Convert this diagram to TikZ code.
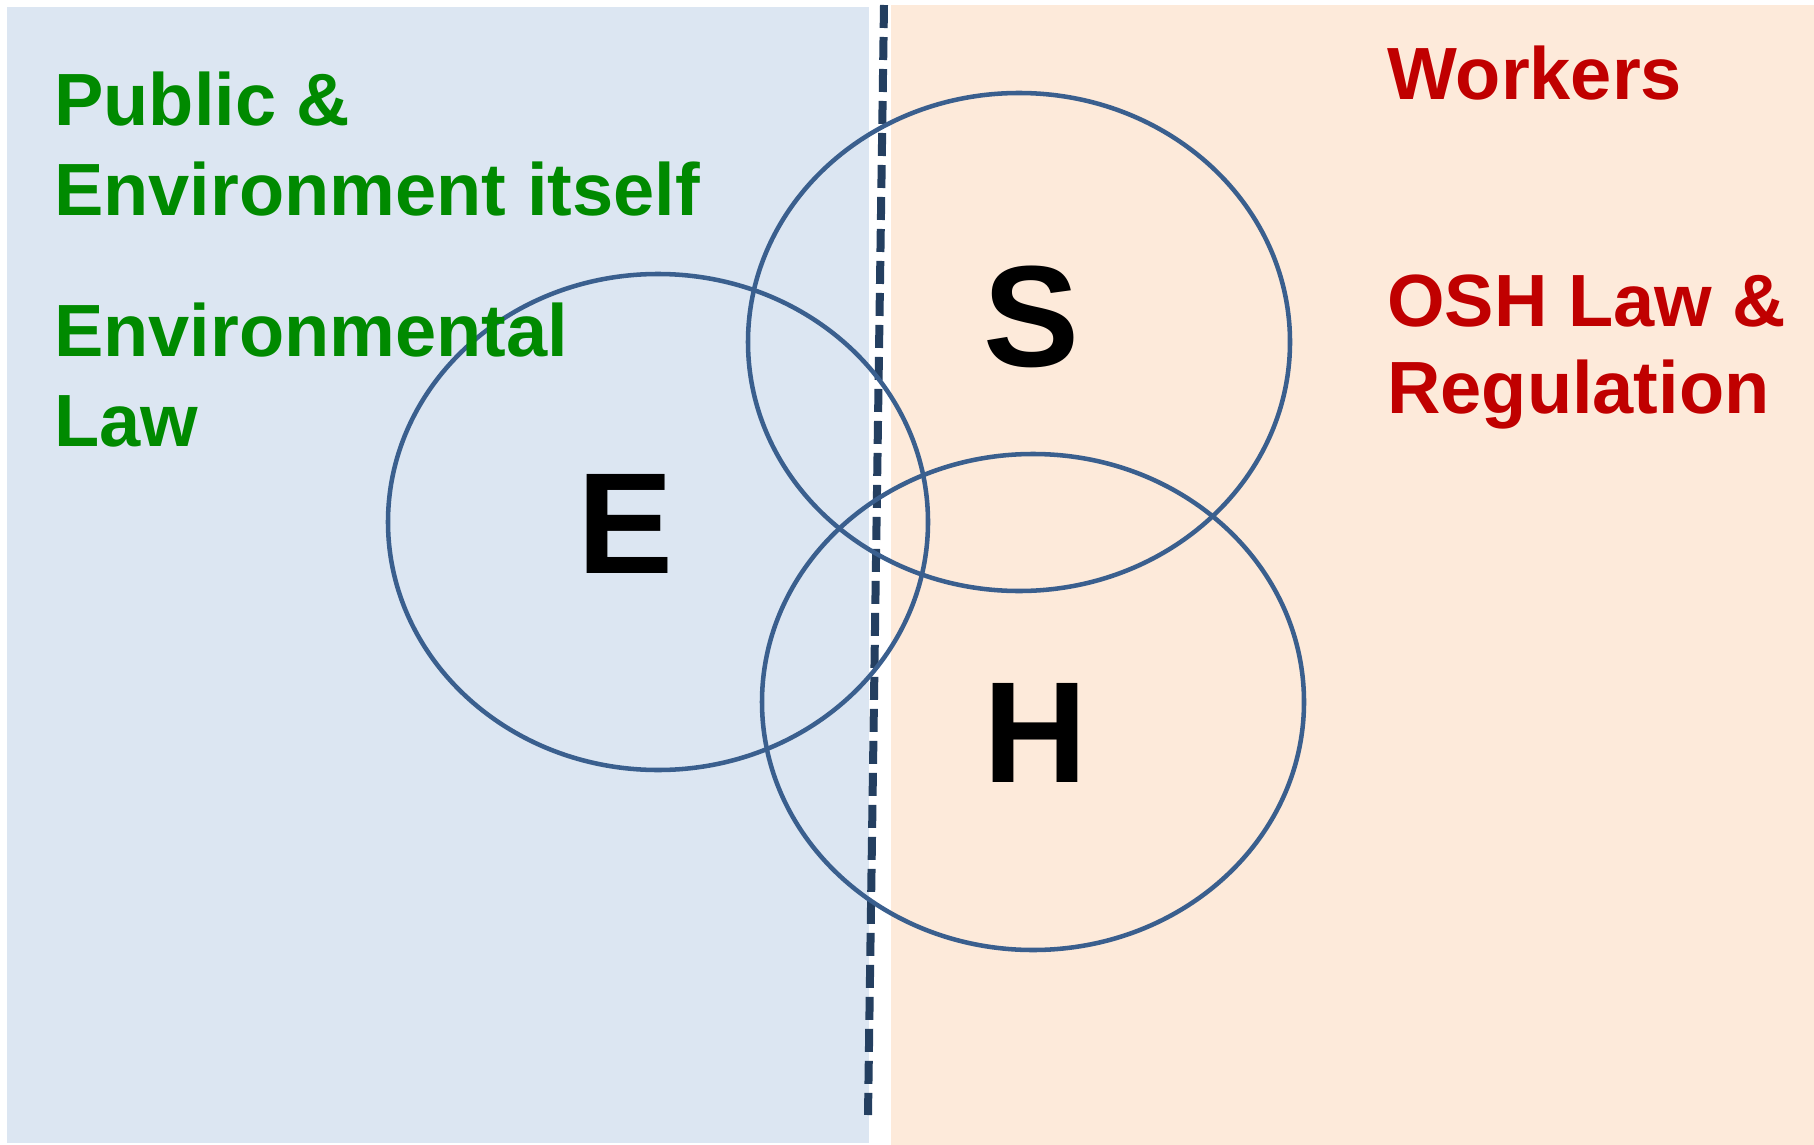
\documentclass[tikz,border=0pt]{standalone}
\usepackage{fontspec}
\setmainfont{Liberation Sans}
\usetikzlibrary{positioning}
\definecolor{leftblue}{HTML}{DCE6F2}
\definecolor{rightpeach}{HTML}{FDEADA}
\definecolor{ringblue}{HTML}{3A5F8E}
\definecolor{navy}{HTML}{243F60}
\definecolor{envgreen}{HTML}{008A00}
\definecolor{oshred}{HTML}{C00000}
\tikzstyle{ring}=[draw=ringblue,line width=3.4pt]
\tikzstyle{divider}=[draw=navy,line width=6pt,dash pattern=on 17.25pt off 6.75pt]
\tikzstyle{envtext}=[anchor=base west,inner sep=0pt,align=left,text=envgreen,font=\fontsize{55.5}{67.5}\selectfont\bfseries]
\tikzstyle{oshtext}=[anchor=base west,inner sep=0pt,align=left,text=oshred,font=\fontsize{55.5}{65.25}\selectfont\bfseries]
\tikzstyle{letter}=[anchor=base,inner sep=0pt,font=\fontsize{108}{120}\selectfont\bfseries]

\begin{document}
\begin{tikzpicture}[x=0.75pt,y=-0.75pt]
      \useasboundingbox (0,0) rectangle (1814,1145);
      % two halves
      \fill[leftblue] (7,7) rectangle (869,1143);
      \fill[rightpeach] (891,5) rectangle (1814,1145);

      \coordinate (top) at (884,5);
      \coordinate (bottom) at (868,1115);
      \draw[divider] (top) -- (bottom);

      % circles
      \draw[ring] (658,522) ellipse [x radius=270, y radius=248];
      \draw[ring] (1019,342) ellipse [x radius=271, y radius=249];
      \draw[ring] (1033,702) ellipse [x radius=271, y radius=248];

      \node[letter] at (626,573) (e) {E};
      \node[letter] at (1032,366) (s) {S};
      \node[letter] at (1035,782) (h) {H};

      % base = last line
      \node[envtext] at (54,215) (public) {Public \&\\Environment itself};
      \node[envtext] at (54,446) (envlaw) {Environmental\\Law};
      \node[oshtext] at (1387,100) (workers) {Workers};
      \node[oshtext] at (1387,413) (oshlaw) {OSH Law \&\\Regulation};
\end{tikzpicture}
\end{document}
